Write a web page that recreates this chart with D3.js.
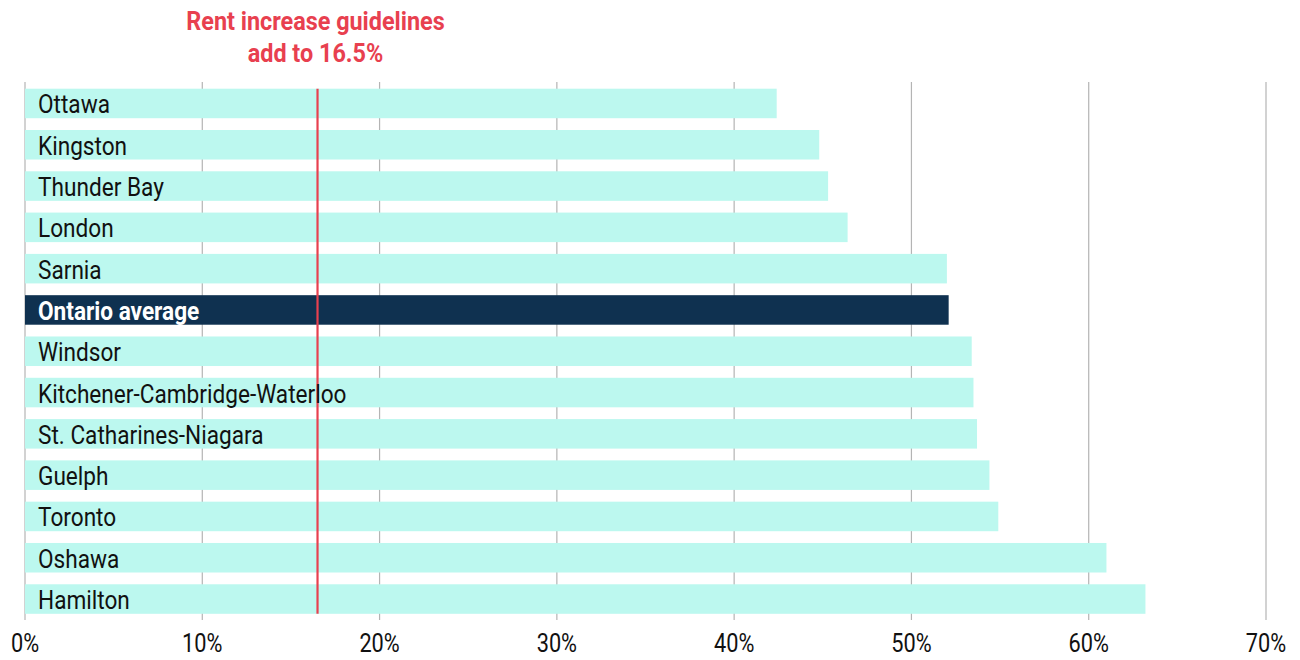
<!DOCTYPE html>
<html>
<head>
<meta charset="utf-8">
<script src="https://cdn.jsdelivr.net/npm/d3@7"></script>
<style>
  html, body { margin: 0; padding: 0; background: #fff; }
  svg { display: block; }
  text { font-family: "Roboto", "DejaVu Sans Condensed", sans-serif; }
</style>
</head>
<body>
<svg id="chart" width="1300" height="660"></svg>
<script>
const cities = ["Ottawa", "Kingston", "Thunder Bay", "London", "Sarnia", "Ontario average",
  "Windsor", "Kitchener-Cambridge-Waterloo", "St. Catharines-Niagara", "Guelph",
  "Toronto", "Oshawa", "Hamilton"];
const increases = [42.4, 44.8, 45.3, 46.4, 52.0, 52.1, 53.4, 53.5, 53.7, 54.4, 54.9, 61.0, 63.2];
const guideline = 16.5;
const guidelineTitle = ["Rent increase guidelines", "add to 16.5%"];
const tickValues = [0, 10, 20, 30, 40, 50, 60, 70];
const highlight = "Ontario average";

// Roboto squeezed horizontally for a condensed look
const SQUEEZE = 0.87;
const TITLE_SQUEEZE = 0.9;

const svg = d3.select("#chart");
const x = d3.scaleLinear().domain([0, 70]).range([25, 1266]);
const y = d3.scaleBand().domain(cities).range([82.5, 620]).paddingInner(0.285).paddingOuter(0.15);

// vertical gridlines
svg.append("g")
  .selectAll("line")
  .data(tickValues)
  .join("line")
  .attr("x1", d => x(d)).attr("x2", d => x(d))
  .attr("y1", 82).attr("y2", 620)
  .attr("stroke", "#b4b4b4").attr("stroke-width", 1.2);

// x axis labels
const axis = d3.axisBottom(x).tickValues(tickValues).tickFormat(d => d + "%").tickSize(0).tickPadding(0);
const gAxis = svg.append("g").call(axis);
gAxis.select(".domain").remove();
gAxis.selectAll(".tick").attr("transform", d => `translate(${x(d)},652) scale(${SQUEEZE},1)`);
gAxis.selectAll("text")
  .attr("y", 0).attr("dy", 0)
  .attr("font-size", 25).attr("fill", "#111")
  .style("font-family", '"Roboto", "DejaVu Sans Condensed", sans-serif');

// bars
svg.append("g")
  .selectAll("rect")
  .data(cities)
  .join("rect")
  .attr("x", x(0))
  .attr("y", d => y(d))
  .attr("width", (d, i) => x(increases[i]) - x(0))
  .attr("height", y.bandwidth())
  .attr("fill", d => d === highlight ? "#0f3150" : "#bcf8ef");

// guideline marker
svg.append("line")
  .attr("x1", x(guideline)).attr("x2", x(guideline))
  .attr("y1", y(cities[0])).attr("y2", y(cities[cities.length - 1]) + y.bandwidth())
  .attr("stroke", "#e8404f").attr("stroke-width", 2.2);

// bar labels
svg.append("g")
  .selectAll("text")
  .data(cities)
  .join("text")
  .attr("transform", d => `translate(38,${y(d) + y.bandwidth() / 2 + 10}) scale(${SQUEEZE},1)`)
  .attr("font-size", 26)
  .attr("font-weight", d => d === highlight ? "bold" : "normal")
  .attr("fill", d => d === highlight ? "#fff" : "#111")
  .text(d => d);

// guideline title
svg.append("g")
  .selectAll("text")
  .data(guidelineTitle)
  .join("text")
  .attr("transform", (d, i) => `translate(${x(guideline) - 2},${30 + i * 32}) scale(${TITLE_SQUEEZE},1)`)
  .attr("text-anchor", "middle")
  .attr("font-size", 26).attr("font-weight", "bold").attr("fill", "#e8404f")
  .text(d => d);
</script>
</body>
</html>
